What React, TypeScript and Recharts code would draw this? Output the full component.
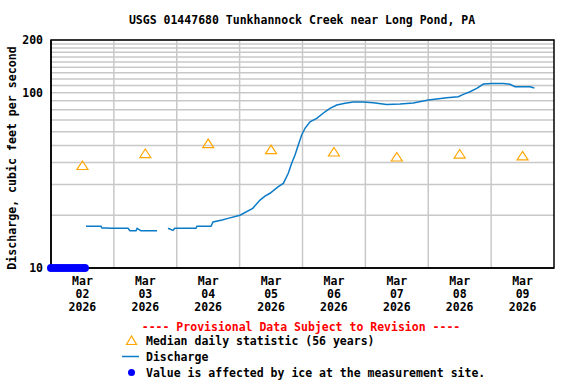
import {
  ComposedChart,
  Line,
  Scatter,
  XAxis,
  YAxis,
  CartesianGrid,
  ReferenceArea,
} from 'recharts';

const FONT = '"DejaVu Sans Mono", "Liberation Mono", monospace';

const title = 'USGS 01447680 Tunkhannock Creek near Long Pond, PA';
const yTitle = 'Discharge, cubic feet per second';

const month = 'Mar';
const year = '2026';
const dayNames = ['02', '03', '04', '05', '06', '07', '08', '09'];
const labelTicks = [0.5, 1.5, 2.5, 3.5, 4.5, 5.5, 6.5, 7.5];
const dayLines = [1, 2, 3, 4, 5, 6, 7];

const yTicks = [10, 20, 30, 40, 50, 60, 70, 80, 90, 100, 110, 120, 130, 140, 150, 160, 170, 180, 190, 200];
const yLabeled = [10, 100, 200];

// days since Mar 02 00:00
const dischargeTime = [
  0.557, 0.795, 0.811, 0.9, 0.938, 1.225, 1.256, 1.352, 1.37, 1.431, 1.686, 1.75,
  1.861, 1.94, 1.97, 2.306, 2.322, 2.545, 2.577, 2.72, 2.815, 3.006, 3.208, 3.324,
  3.404, 3.483, 3.615, 3.695, 3.774, 3.828, 3.881, 3.933, 3.987, 4.04, 4.119, 4.226,
  4.358, 4.437, 4.544, 4.676, 4.808, 4.967, 5.126, 5.339, 5.551, 5.762, 6.001, 6.134,
  6.293, 6.478, 6.558, 6.664, 6.771, 6.876, 7.009, 7.194, 7.3, 7.38, 7.618, 7.687,
];
const dischargeValue = [
  17.3, 17.3, 16.9, 16.9, 16.85, 16.85, 16.3, 16.3, 16.85, 16.3, 16.3, null,
  16.85, 16.4, 16.85, 16.85, 17.3, 17.3, 18.3, 18.8, 19.2, 20.0, 21.9, 24.4,
  25.7, 26.7, 29.1, 30.4, 34.7, 39.6, 44.1, 50.3, 57.4, 62.7, 68.3, 71.4,
  77.9, 81.5, 85.1, 87.0, 88.5, 88.5, 87.7, 85.8, 86.2, 87.3, 90.9, 92.1,
  93.6, 94.9, 97.9, 101.3, 106.0, 112.1, 113.1, 113.1, 111.7, 108.2, 108.2, 106.4,
];

const medianTime = [0.5, 1.5, 2.5, 3.5, 4.5, 5.5, 6.5, 7.5];
const medianValue = [38.2, 44.7, 50.9, 47.1, 45.6, 42.7, 44.4, 43.3];

const iceTime = [0, 0.05, 0.1, 0.15, 0.2, 0.25, 0.3, 0.35, 0.4, 0.45, 0.5, 0.54];
const iceValue = [10, 10, 10, 10, 10, 10, 10, 10, 10, 10, 10, 10];

const discharge = dischargeTime.map((t, i) => ({ t, q: dischargeValue[i] }));
const median = medianTime.map((t, i) => ({ t, q: medianValue[i] }));
const ice = iceTime.map((t, i) => ({ t, q: iceValue[i] }));

const BLUE_LINE = '#0B7BC8';
const ORANGE = '#FFA500';
const ICE = '#0000FF';

const Triangle = (props: any) => {
  const { cx, cy } = props;
  return (
    <polygon
      points={`${cx},${cy - 5} ${cx - 5.5},${cy + 3.5} ${cx + 5.5},${cy + 3.5}`}
      fill="none"
      stroke={ORANGE}
      strokeWidth={1.2}
    />
  );
};

const IceDot = (props: any) => (
  <circle cx={props.cx} cy={props.cy} r={4} fill={ICE} />
);

const DateTick = (props: any) => {
  const { x, y, payload } = props;
  const idx = labelTicks.indexOf(payload.value);
  return (
    <text x={x} y={y} textAnchor="middle" fontFamily={FONT} fontWeight="bold" fontSize={11.5} fill="#000">
      <tspan x={x} dy={9}>{month}</tspan>
      <tspan x={x} dy={13}>{dayNames[idx]}</tspan>
      <tspan x={x} dy={13}>{year}</tspan>
    </text>
  );
};

const YTitle = (props: any) => {
  const vb = props.viewBox || {};
  const cx = 12;
  const cy = (vb.y ?? 40) + (vb.height ?? 228) / 2 + 4;
  return (
    <text
      transform={`translate(${cx},${cy}) rotate(-90)`}
      textAnchor="middle"
      dominantBaseline="central"
      fontFamily={FONT}
      fontWeight="bold"
      fontSize={11.6}
      fill="#000"
    >
      {yTitle}
    </text>
  );
};

export default function App() {
  const textStyle = { fontFamily: FONT, fontWeight: 'bold' as const, fontSize: 11.5 };
  return (
    <div style={{ position: 'absolute', left: 0, top: 0, width: 576, height: 384, background: '#fff' }}>
      <ComposedChart
        width={576}
        height={384}
        margin={{ top: 40, right: 22, left: 0, bottom: 0 }}
      >
        <CartesianGrid
          stroke="#c8c8c8"
          strokeWidth={1.5}
          verticalValues={dayLines}
        />
        <XAxis
          dataKey="t"
          type="number"
          domain={[0, 8]}
          ticks={labelTicks}
          height={116}
          tickLine={false}
          axisLine={{ stroke: '#000', strokeWidth: 1.5 }}
          tick={<DateTick />}
          interval={0}
        />
        <YAxis
          type="number"
          scale="log"
          domain={[10, 200]}
          ticks={yTicks}
          interval={0}
          width={51}
          tickLine={false}
          axisLine={{ stroke: '#000', strokeWidth: 1.5 }}
          tick={{ ...textStyle, fill: '#000' }}
          tickFormatter={(v: number) => (yLabeled.includes(v) ? String(v) : '')}
          label={<YTitle />}
        />
        <ReferenceArea x1={0} x2={8} y1={10} y2={200} fill="none" stroke="#000" strokeWidth={1.5} />
        <Line
          data={discharge}
          dataKey="q"
          type="linear"
          stroke={BLUE_LINE}
          strokeWidth={1.5}
          dot={false}
          connectNulls={false}
          isAnimationActive={false}
        />
        <Scatter data={median} dataKey="q" shape={<Triangle />} isAnimationActive={false} />
        <Scatter data={ice} dataKey="q" shape={<IceDot />} isAnimationActive={false} />
      </ComposedChart>
      <svg
        width={576}
        height={384}
        style={{ position: 'absolute', left: 0, top: 0, pointerEvents: 'none' }}
      >
        <text x={302} y={23.5} textAnchor="middle" {...textStyle} fill="#000">{title}</text>
        <text x={301} y={331} textAnchor="middle" {...textStyle} fill="#FF0000">
          ---- Provisional Data Subject to Revision ----
        </text>
        <polygon points="131.5,336 126.5,344.5 136.5,344.5" fill="none" stroke={ORANGE} strokeWidth={1.2} />
        <text x={146} y={345} {...textStyle} fill="#000">Median daily statistic (56 years)</text>
        <line x1={122} x2={139} y1={356.5} y2={356.5} stroke={BLUE_LINE} strokeWidth={1.5} />
        <text x={146} y={361} {...textStyle} fill="#000">Discharge</text>
        <circle cx={131.5} cy={372.5} r={3.5} fill={ICE} />
        <text x={146} y={377} {...textStyle} fill="#000">Value is affected by ice at the measurement site.</text>
      </svg>
    </div>
  );
}
